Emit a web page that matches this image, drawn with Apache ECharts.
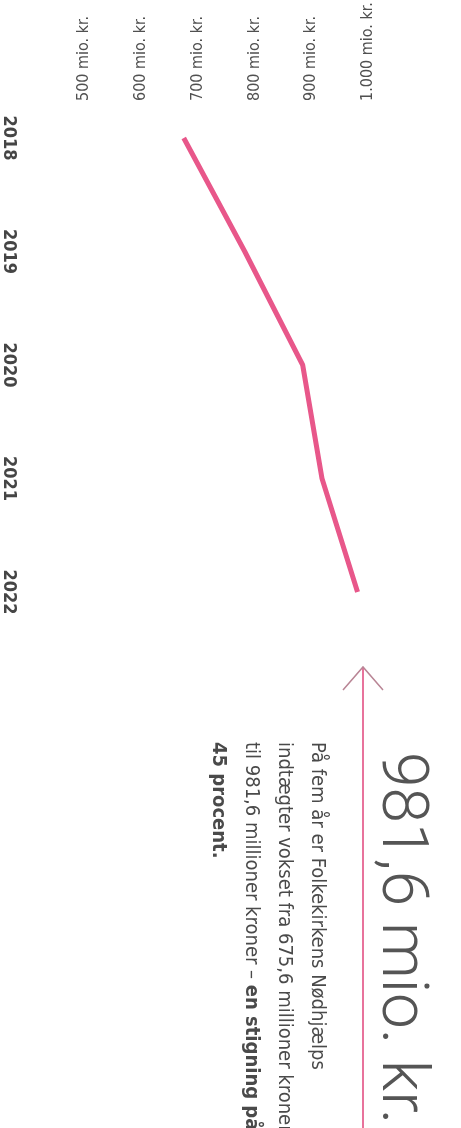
<!DOCTYPE html>
<html>
<head>
<meta charset="utf-8">
<script src="https://cdn.jsdelivr.net/npm/echarts@6/dist/echarts.min.js"></script>
<style>
html,body{margin:0;padding:0;background:#fff;}
#c{width:461px;height:1128px;}
</style>
</head>
<body>
<div id="c"></div>
<script>
var years = ['2018', '2019', '2020', '2021', '2022'];
var income = [675.6, 783, 885, 919, 981.6];
var valueTicks = [500, 600, 700, 800, 900, 1000];
var valueTickLabels = ['500 mio. kr.', '600 mio. kr.', '700 mio. kr.', '800 mio. kr.', '900 mio. kr.', '1.000 mio. kr.'];

var NARROW = "'Liberation Sans Narrow','DejaVu Sans Condensed','Roboto Condensed',sans-serif";

var chart = echarts.init(document.getElementById('c'), null, {renderer: 'canvas'});
chart.setOption({
  backgroundColor: '#ffffff',
  animation: false,
  grid: {left: 84, right: 93, top: 138, bottom: 536, containLabel: false, outerBoundsMode: 'none'},
  xAxis: {
    type: 'value', position: 'top', min: 500, max: 1000, interval: 100,
    axisLine: {show: false}, axisTick: {show: false}, splitLine: {show: false},
    axisLabel: {
      rotate: -90, margin: 37, fontSize: 16, color: '#505050', fontFamily: NARROW,
      formatter: function (v) { var i = valueTicks.indexOf(v); return i >= 0 ? valueTickLabels[i] : ''; }
    }
  },
  yAxis: {
    type: 'category', data: years, inverse: true, boundaryGap: false,
    axisLine: {show: false}, axisTick: {show: false}, splitLine: {show: false},
    axisLabel: {rotate: -90, margin: 66, fontSize: 18, fontWeight: 'bold', color: '#454545', fontFamily: NARROW}
  },
  series: [{
    type: 'line', data: income, symbol: 'none', smooth: false,
    lineStyle: {width: 5, color: '#e8578a', cap: 'butt'}
  }],
  graphic: [
    {type: 'line', shape: {x1: 363, y1: 667, x2: 363, y2: 1128}, style: {stroke: '#e0457b', lineWidth: 1.5}},
    {type: 'polyline', shape: {points: [[343, 690], [363, 667], [383, 690]]}, style: {stroke: '#b98595', lineWidth: 1.5, fill: null}},
    {type: 'text', x: 399, y: 752, rotation: -Math.PI / 2,
      style: {text: '981,6 mio. kr.', fontSize: 64, fontWeight: 300, fontFamily: "'Roboto','Lato',sans-serif", fill: '#555555', align: 'left', verticalAlign: 'middle'}},
    {type: 'text', x: 334, y: 742, rotation: -Math.PI / 2,
      style: {
        text: '{a|På fem år er Folkekirkens Nødhjælps}\n{a|indtægter vokset fra 675,6 millioner kroner}\n{a|til 981,6 millioner kroner – }{b|en stigning på}\n{b|45 procent.}',
        align: 'left', verticalAlign: 'top',
        rich: {
          a: {fontSize: 20, lineHeight: 33, fontFamily: NARROW, fill: '#4a4a4a', color: '#4a4a4a'},
          b: {fontSize: 20, lineHeight: 33, fontFamily: NARROW, fontWeight: 'bold', fill: '#4a4a4a', color: '#4a4a4a'}
        }
      }}
  ]
});
</script>
</body>
</html>
